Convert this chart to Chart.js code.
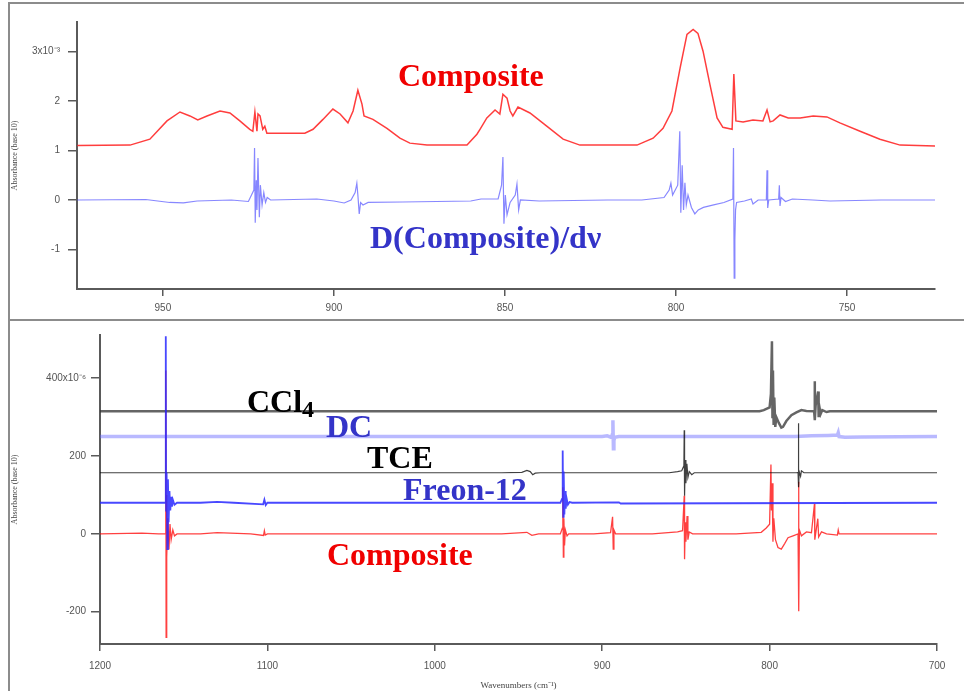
<!DOCTYPE html>
<html>
<head>
<meta charset="utf-8">
<script src="https://cdn.jsdelivr.net/npm/chart.js@4/dist/chart.umd.min.js"></script>
<style>
  html,body{margin:0;padding:0;background:#fff;}
  body{width:964px;height:691px;position:relative;overflow:hidden;}
  canvas{position:absolute;}
  .frame{position:absolute;background:#8c8c8c;}
  .lbl{position:absolute;font-family:"Liberation Serif","Times New Roman",serif;font-weight:bold;font-size:32px;line-height:32px;white-space:nowrap;}
  .lbl sub{font-size:24px;vertical-align:-5px;line-height:0;}
</style>
</head>
<body>
<div class="frame" style="left:8px;top:2px;width:2px;height:689px;"></div>
<div class="frame" style="left:8px;top:2px;width:956px;height:2px;"></div>
<div class="frame" style="left:8px;top:319px;width:956px;height:2px;"></div>

<canvas id="top" width="940" height="316" style="left:10px;top:4px;"></canvas>
<canvas id="bot" width="940" height="369" style="left:10px;top:322px;"></canvas>

<div class="lbl" style="left:398px;top:59px;color:#f00000;">Composite</div>
<div class="lbl" style="left:370px;top:221px;color:#3434c8;">D(Composite)/dν</div>

<div class="lbl" style="left:247px;top:385px;color:#000;">CCl<sub>4</sub></div>
<div class="lbl" style="left:326px;top:410px;color:#3434c8;">DC</div>
<div class="lbl" style="left:367px;top:441px;color:#000;">TCE</div>
<div class="lbl" style="left:403px;top:473px;color:#3434c8;">Freon-12</div>
<div class="lbl" style="left:327px;top:538px;color:#f00000;">Composite</div>

<script>
// ---------- Top panel data (absorbance ×10^-3 vs wavenumber cm^-1) ----------
const topCompositeWn = [975,959.6,953.8,948.8,945.0,942.1,939.8,937.1,933.3,930.4,927.5,924.6,923.7,923.1,922.5,922.2,921.6,920.8,920.2,919.6,918.7,908.5,906.1,903.2,900.3,898.2,895.9,894.4,893.0,891.8,891.2,888.6,884.5,880.7,877.8,872.8,861.1,858.2,857.3,855.3,852.9,851.5,850.6,849.4,848.5,847.7,846.2,842.7,837.7,833.0,828.1,811.4,806.7,803.8,801.2,798.8,796.8,795.0,793.6,792.1,790.1,788.0,786.3,783.6,783.1,782.5,780.4,777.5,774.6,773.4,772.5,771.6,769.6,767.2,763.7,759.9,755.9,752.1,746.2,740.4,734.5,724.3];
const topCompositeAbs = [1.10,1.11,1.23,1.60,1.78,1.70,1.62,1.70,1.80,1.76,1.60,1.43,1.39,1.78,1.39,1.74,1.70,1.43,1.49,1.35,1.35,1.35,1.43,1.63,1.84,1.74,1.56,1.80,2.22,1.94,1.70,1.63,1.45,1.25,1.15,1.11,1.11,1.33,1.43,1.66,1.82,1.74,2.14,2.06,1.80,1.70,1.88,1.76,1.49,1.23,1.11,1.11,1.25,1.45,1.80,2.67,3.35,3.45,3.37,3.01,2.34,1.66,1.47,1.43,2.55,1.60,1.58,1.62,1.60,1.82,1.58,1.60,1.72,1.66,1.66,1.70,1.68,1.56,1.39,1.23,1.11,1.09];

const topDerivWn = [975,955,948,944,940,930,925,923.4,923.2,923.0,922.7,922.5,922.2,921.8,921.5,921.0,920.5,920.0,919.5,918.5,905,900,897,895,893.8,893.3,893.0,892.6,892.2,891.5,890,880,860,857,852,851.0,850.6,850.3,849.9,849.4,848.5,847.0,846.5,846.0,845.5,840,820,810,803.5,802,801.5,801,799.5,798.9,798.6,798.2,797.8,797.4,797,796.5,795.5,794.5,793.5,792,789,786,783.4,783.2,783.0,782.8,782.6,782.3,780,778,777.5,776,773.6,773.4,773.2,772.9,770,769.8,769.6,769.3,768,766,760,755,740,724];
const topDerivVal = [0,0.01,-0.05,-0.06,-0.02,0,-0.03,0.2,1.05,-0.46,0.4,-0.2,0.85,-0.35,0.3,-0.1,0.15,-0.05,0.05,0,0.02,-0.02,-0.06,0,0.15,0.34,0.1,-0.28,-0.05,-0.1,-0.05,-0.04,-0.02,0.02,0.02,0.3,0.87,-0.48,0.1,-0.3,-0.05,0.1,0.32,-0.2,0,-0.02,0,0,0.05,0.2,0.34,0.1,0.3,1.39,-0.26,0.7,-0.2,0.35,-0.1,0.1,-0.15,-0.28,-0.2,-0.15,-0.1,-0.05,0.02,1.05,-1.58,-0.8,-0.2,-0.05,-0.02,0.02,-0.08,0,0,0.6,-0.16,0,0.02,0.3,-0.12,0.05,-0.03,0.02,0,-0.02,0,0];

const topXTicks = [950,900,850,800,750];
const topYTicks = [-1,0,1,2,3];

// ---------- Bottom panel data (absorbance ×10^-6 vs wavenumber cm^-1) ----------
const ccl4Wn  = [1200,806,803.5,800,799.2,798.6,798.3,798.0,797.6,797.2,796.6,796,794.5,793,792,790,787,784,781,778,773.4,773.1,772.9,772.5,771.0,770.7,770.2,769.5,768.5,766,764,700];
const ccl4Val = [315,315,318,325,360,495,300,420,280,350,275,300,285,273,275,290,305,312,318,316,315,392,292,330,366,300,325,308,318,313,315,315];

const dcWn  = [1200,900,897,894.5,894,893.6,893.3,893.0,892.5,890,850,810,785,775,765,759.5,759,758.5,755,745,700];
const dcVal = [250,250,252,248,255,292,219,240,248,250,250,250,250,252,253,254,260,250,248,249,250];

const tceWn  = [1200,960,948,945,943,941.5,940,937,860,855,852.5,851.2,851.0,850.8,850.4,850,849.4,848.8,848,846.5,845,784,783,782.8,782.6,782.3,781.5,781,779.5,700];
const tceVal = [157,157,158,163,160,152,156,157,157,160,162,175,266,98,190,130,180,145,160,152,157,157,158,284,120,160,148,162,157,157];

const freonWn  = [1200,1162,1160.8,1160.7,1160.5,1160.2,1159.8,1159.4,1159.0,1158.5,1158,1157.5,1157,1156.5,1155.5,1154,1140,1130,1120,1102.5,1101.8,1101,1100,1085,925,924,923.6,923.3,923.0,922.6,922.2,921.8,921.2,920.5,919.5,918,890,889,700];
const freonVal = [80,80,80,508,60,157,-39,140,30,110,60,95,70,88,75,80,80,82,80,76,88,74,80,80,80,90,214,44,160,50,110,65,90,75,82,80,81,78,80];

const compWn  = [1200,1175,1165,1161.0,1160.7,1160.5,1160.3,1160.0,1159.5,1158.8,1158.2,1157.5,1156.5,1155.5,1154,1140,1130,1110,1102.3,1101.8,1101.3,1100,1080,960,945,942,938,925,923.8,923.5,923.2,922.9,922.5,922,921,920,905,895,893.8,893.4,893.0,892,870,855,852,851.0,850.8,850.4,850.0,849.3,848.8,848,846,820,805,802,800,799.2,798.9,798.5,798.0,797.5,796.5,795,793,791,789,786,783.0,782.7,782.5,782.2,781,778,775,773.2,773.0,771.2,770.7,769,766,759.5,759,758.5,740,700];
const compVal = [0,2,0,0,420,-266,100,-60,40,-40,25,-15,10,-5,0,0,3,0,-4,8,-3,0,0,0,4,-4,0,0,15,120,-60,40,-30,10,-5,0,0,3,44,-39,10,0,0,5,8,98,-65,30,-20,46,-15,5,0,0,4,15,25,178,60,130,-20,40,-15,-35,-39,-25,-10,-5,0,134,-199,10,-5,5,3,77,-15,39,-8,5,0,-3,10,0,0,0];

const botXTicks = [1200,1100,1000,900,800,700];
const botYTicks = [-200,0,200,400];

// ---------- helpers ----------
const pts = (xs, ys) => xs.map((x, i) => ({x: x, y: ys[i]}));
const AXIS = '#5a5a5a';
const TICKFONT = {family: '"Liberation Sans", Arial, sans-serif', size: 10};

function axisX(min, max, ticksArr, h, pad, title) {
  return {
    type: 'linear', reverse: true, min: min, max: max,
    grid: {display: true, drawOnChartArea: false, drawTicks: true, tickLength: 7, color: AXIS, lineWidth: 1.5},
    border: {display: true, color: AXIS, width: 2},
    ticks: {color: '#555', font: TICKFONT, padding: pad, maxRotation: 0, autoSkip: false, callback: v => String(v)},
    title: title ? {display: true, text: title, color: '#444', font: {family: '"Liberation Serif", serif', size: 9}, padding: {top: 0, bottom: 0}} : {display: false},
    afterBuildTicks: s => { s.ticks = ticksArr.map(v => ({value: v})); },
    afterFit: s => { s.height = h; s.paddingLeft = 0; s.paddingRight = 0; }
  };
}
function axisY(min, max, ticksArr, w, pad, fmt, title) {
  return {
    type: 'linear', min: min, max: max,
    grid: {display: true, drawOnChartArea: false, drawTicks: true, tickLength: 9, color: AXIS, lineWidth: 1.5},
    border: {display: true, color: AXIS, width: 2},
    ticks: {color: '#555', font: TICKFONT, padding: pad, callback: fmt},
    title: {display: true, text: title, color: '#444', font: {family: '"Liberation Serif", serif', size: 8}, padding: {top: 0, bottom: 0}},
    afterBuildTicks: s => { s.ticks = ticksArr.map(v => ({value: v})); },
    afterFit: s => { s.width = w; s.paddingTop = 0; s.paddingBottom = 0; }
  };
}
function line(data, color, width, order) {
  return {data: data, borderColor: color, borderWidth: width, pointRadius: 0, tension: 0, fill: false, order: order};
}
const common = {
  responsive: false, animation: false, events: [],
  plugins: {legend: {display: false}, tooltip: {enabled: false}},
};

new Chart(document.getElementById('top'), {
  type: 'line',
  data: {datasets: [
    line(pts(topCompositeWn, topCompositeAbs), 'rgba(255,40,40,0.9)', 1.5, 1),
    line(pts(topDerivWn, topDerivVal), 'rgba(70,70,255,0.65)', 1.2, 2)
  ]},
  options: Object.assign({}, common, {
    layout: {padding: {left: 0, top: 18, right: 15, bottom: 0}},
    scales: {
      x: axisX(724.3, 975.1, topXTicks, 31, 6, null),
      y: axisY(-1.8, 3.6, topYTicks, 67, 8, v => v === 3 ? '3x10\u207B\u00B3' : String(v), 'Absorbance (base 10)')
    }
  })
});

new Chart(document.getElementById('bot'), {
  type: 'line',
  data: {datasets: [
    line(pts(freonWn, freonVal), 'rgba(40,40,255,0.85)', 1.8, 1),
    line(pts(tceWn, tceVal), 'rgba(0,0,0,0.75)', 1.2, 2),
    line(pts(ccl4Wn, ccl4Val), 'rgba(50,50,50,0.75)', 2.5, 3),
    line(pts(dcWn, dcVal), 'rgba(100,100,255,0.45)', 3.5, 4),
    line(pts(compWn, compVal), 'rgba(255,0,0,0.75)', 1.3, 5)
  ]},
  options: Object.assign({}, common, {
    layout: {padding: {left: 0, top: 13, right: 13, bottom: 0}},
    scales: {
      x: axisX(700, 1200, botXTicks, 47, 9, 'Wavenumbers (cm\u207B\u00B9)'),
      y: axisY(-283, 511, botYTicks, 90, 5, v => v === 400 ? '400x10\u207B\u2076' : String(v), 'Absorbance (base 10)')
    }
  })
});
</script>
</body>
</html>
